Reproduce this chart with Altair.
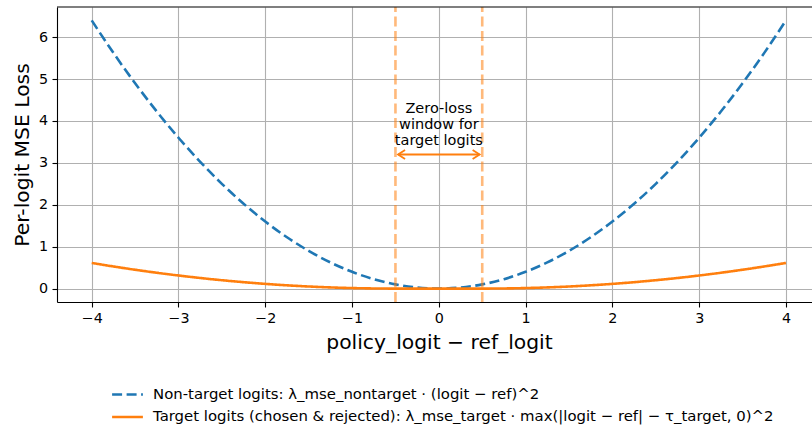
import altair as alt
import pandas as pd

# Logit difference (policy - reference) sampled along the x axis
diff = [-4.0, -3.75, -3.5, -3.25, -3.0, -2.75, -2.5, -2.25, -2.0, -1.75, -1.5,
        -1.25, -1.0, -0.75, -0.5, -0.25, 0.0, 0.25, 0.5, 0.75, 1.0, 1.25, 1.5,
        1.75, 2.0, 2.25, 2.5, 2.75, 3.0, 3.25, 3.5, 3.75, 4.0]

# Plain squared penalty on non-target logits
nontarget_loss = [6.4, 5.625, 4.9, 4.225, 3.6, 3.025, 2.5, 2.025, 1.6, 1.225, 0.9,
                  0.625, 0.4, 0.225, 0.1, 0.025, 0.0, 0.025, 0.1, 0.225, 0.4, 0.625,
                  0.9, 1.225, 1.6, 2.025, 2.5, 3.025, 3.6, 4.225, 4.9, 5.625, 6.4]

# Hinged squared penalty on target logits (zero inside the tolerance window)
target_loss = [0.6125, 0.528, 0.45, 0.378, 0.3125, 0.253, 0.2, 0.153, 0.1125, 0.078,
               0.05, 0.028, 0.0125, 0.003, 0.0, 0.0, 0.0, 0.0, 0.0, 0.003, 0.0125,
               0.028, 0.05, 0.078, 0.1125, 0.153, 0.2, 0.253, 0.3125, 0.378, 0.45,
               0.528, 0.6125]

series_names = [
    "Non-target logits: λ_mse_nontarget · (logit − ref)^2",
    "Target logits (chosen & rejected): λ_mse_target · max(|logit − ref| − τ_target, 0)^2",
]
series_colors = ["#1f77b4", "#ff7f0e"]
series_dashes = [[10, 4.5], [1, 0]]

window_edges = [-0.5, 0.5]          # tolerance window τ_target
arrow_ends = [-0.47, 0.47]
arrow_level = 3.2
window_label = ["Zero-loss", "window for", "target logits"]
window_label_level = 4.2

x_ticks = [-4, -3, -2, -1, 0, 1, 2, 3, 4]
y_ticks = [0, 1, 2, 3, 4, 5, 6]
x_domain = [-4.4, 4.3]
y_domain = [-0.32, 6.72]

FONT = "DejaVu Sans"
X_TITLE = "policy_logit − ref_logit"
Y_TITLE = "Per-logit MSE Loss"

x_scale = alt.Scale(domain=x_domain, nice=False, zero=False)
y_scale = alt.Scale(domain=y_domain, nice=False, zero=False)
x_axis = alt.Axis(values=x_ticks, titleX=382, titleY=46, titleBaseline="alphabetic",
                  titleAnchor="start", titleAlign="center")
y_axis = alt.Axis(values=y_ticks, titleX=-35, titleY=147.5, titleBaseline="middle",
                  titleAlign="center", titleAnchor="start")


def xq(field):
    return alt.X(field, type="quantitative", scale=x_scale, axis=x_axis, title=X_TITLE)


def yq(field):
    return alt.Y(field, type="quantitative", scale=y_scale, axis=y_axis, title=Y_TITLE)


curves = pd.DataFrame({
    "diff": diff * 2,
    "loss": nontarget_loss + target_loss,
    "series": [series_names[0]] * len(diff) + [series_names[1]] * len(diff),
    "order": list(range(len(diff))) * 2,
})

# Legend swatch: a horizontal stroke wider than the row height
legend = alt.Legend(
    title=None, orient="none", legendX=58, legendY=375, direction="vertical",
    symbolType="M-1.4,0H1.4", symbolSize=484, symbolStrokeWidth=2.6,
    labelFont=FONT, labelFontSize=14.9, labelColor="#000000", labelLimit=0,
    labelOffset=13, rowPadding=2.5, padding=0,
)

lines = alt.Chart(curves).mark_line(strokeWidth=2.6, interpolate="monotone").encode(
    x=xq("diff"),
    y=yq("loss"),
    color=alt.Color("series:N", scale=alt.Scale(domain=series_names, range=series_colors),
                    legend=legend),
    strokeDash=alt.StrokeDash("series:N",
                              scale=alt.Scale(domain=series_names, range=series_dashes),
                              legend=legend),
    order="order:Q",
)

edges_df = pd.DataFrame({"edge": window_edges,
                         "lo": [y_domain[0]] * 2, "hi": [y_domain[1]] * 2})
edges = alt.Chart(edges_df).mark_rule(
    color="#ff7f0e", opacity=0.55, strokeWidth=2.6, strokeDash=[10, 4.5]
).encode(x=xq("edge"), y=yq("lo"), y2="hi")

arrow_df = pd.DataFrame({"x0": [arrow_ends[0]], "x1": [arrow_ends[1]], "y": [arrow_level]})
shaft = alt.Chart(arrow_df).mark_rule(color="#ff7f0e", strokeWidth=1.8).encode(
    x=xq("x0"), x2="x1", y=yq("y"),
)

heads_df = pd.DataFrame({
    "x": arrow_ends,
    "y": [arrow_level, arrow_level],
    "shape": ["M1,-0.65L0,0L1,0.65", "M-1,-0.65L0,0L-1,0.65"],
})
heads = alt.Chart(heads_df).mark_point(
    filled=False, color="#ff7f0e", strokeWidth=1.8, size=196, opacity=1
).encode(
    x=xq("x"), y=yq("y"),
    shape=alt.Shape("shape:N", scale=None, legend=None),
)

label = alt.Chart(pd.DataFrame({"x": [0.0], "y": [window_label_level],
                                "text": [window_label]})).mark_text(
    font=FONT, fontSize=14.5, color="#000000", align="center",
    baseline="alphabetic", lineHeight=16,
).encode(x=xq("x"), y=yq("y"), text="text")

top_spine = alt.Chart(pd.DataFrame({"y": [y_domain[1]]})).mark_rule(
    color="#000000", strokeWidth=1.1
).encode(y=yq("y"))

chart = alt.layer(lines, edges, shaft, heads, label, top_spine).properties(
    width=755, height=295,
    autosize=alt.AutoSizeParams(type="none"),
    padding={"left": 57, "top": 7, "right": 0, "bottom": 128},
    background="white",
).configure_view(stroke=None).configure_axis(
    labelFont=FONT, labelFontSize=14.3, labelColor="#000000",
    titleFont=FONT, titleFontSize=20.3, titleColor="#000000", titleFontWeight="normal",
    domainColor="#000000", domainWidth=1.1,
    tickColor="#000000", tickWidth=1.1, tickSize=5, labelPadding=4.5,
    gridColor="#b0b0b0", gridWidth=1.1, grid=True,
)

chart.save("out.html", embed_options={"renderer": "svg", "actions": False})
